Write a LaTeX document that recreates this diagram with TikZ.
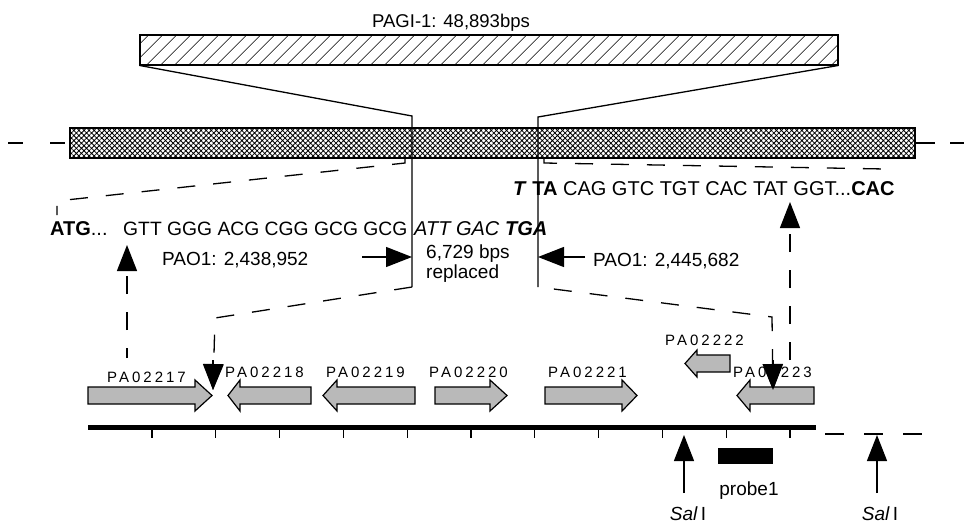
\documentclass[tikz,border=0pt]{standalone}
\usepackage{fontspec}
\setmainfont{Liberation Sans}
\newfontfamily\genefont[LetterSpace=20]{Liberation Sans}
\usetikzlibrary{patterns.meta,arrows.meta}
\tikzset{
  lbl/.style={inner sep=0pt, font=\fontsize{19}{21}\selectfont},
  seq/.style={inner sep=0pt, anchor=base west, font=\fontsize{20}{22}\selectfont},
  genelbl/.style={inner sep=0pt, anchor=base west, font=\genefont\fontsize{15}{17}\selectfont},
  gene/.style={draw=black, line width=1.2pt, fill=gray!55, line join=miter},
  solidln/.style={line width=1.3pt},
  dashln/.style={line width=1.3pt, dash pattern=on 18pt off 18pt},
  bigtip/.style={-{Triangle[length=26pt,width=20pt]}},
}
\begin{document}
\begin{tikzpicture}[x=1pt,y=-1pt]
\useasboundingbox (0,0) rectangle (964,525);
% PAGI-1 island
\node[lbl, anchor=base, font=\fontsize{18.5}{20}\selectfont] (pagi) at (451,27) {PAGI-1: 48,893bps};
\node[draw, line width=1.3pt, minimum width=698pt, minimum height=30pt, inner sep=0pt,
      pattern={Lines[angle=45,distance=10.5pt,line width=0.9pt]}] (pagibox) at (489,50) {};
% chromosome
\node[draw, line width=1.3pt, minimum width=845pt, minimum height=30pt, inner sep=0pt,
      pattern={Hatch[angle=45,distance=3.6pt,line width=0.8pt]}] (chrom) at (492.5,143) {};
\coordinate (fl1) at (8,143);
\coordinate (fr1) at (964,143);
\draw[dashln, dash pattern=on 15pt off 27pt] (fl1) -- (chrom.west);
\draw[dashln, dash pattern=on 20pt off 15pt] (chrom.east) -- (fr1);
% insertion lines
\coordinate (jl) at (412,116); \coordinate (jlb) at (412,287);
\coordinate (jr) at (538,117); \coordinate (jrb) at (538,287);
\draw[solidln] (pagibox.south west) -- (jl) -- (jlb);
\draw[solidln] (pagibox.south east) -- (jr) -- (jrb);
% upper dashed zooms
\coordinate (ul0) at (405,158); \coordinate (ul1) at (405,163);
\coordinate (ul2) at (57,201); \coordinate (ul3) at (57,215);
\draw[dashln] (ul0) -- (ul1) -- (ul2) -- (ul3);
\coordinate (ur0) at (544,158); \coordinate (ur1) at (544,163);
\coordinate (ur2) at (885,169); \coordinate (ur3) at (885,176);
\draw[dashln] (ur0) -- (ur1) -- (ur2) -- (ur3);
% sequences
\node[seq] (seqA) at (513,195) {\textbf{\textit{T}} \textbf{TA} CAG GTC TGT CAC TAT GGT...\textbf{CAC}};
\node[seq] (atg) at (50,235) {\textbf{ATG}...};
\node[seq, font=\fontsize{19.3}{21}\selectfont] (gtt) at (123,235) {GTT GGG ACG CGG GCG GCG};
\node[seq] (attg) at (414,235) {\textit{ATT GAC} \textbf{\textit{TGA}}};
\node[lbl, anchor=base west] (bps) at (426,258) {6,729 bps};
\node[lbl, anchor=base west] (repl) at (426,278) {replaced};
\node[lbl, anchor=base west] (paoL) at (162,265) {PAO1: 2,438,952};
\node[lbl, anchor=base west] (paoR) at (593,266) {PAO1: 2,445,682};
\coordinate (aLs) at (362,257); \coordinate (aLe) at (412,257);
\draw[solidln, bigtip] (aLs) -- (aLe);
\coordinate (aRs) at (585,257); \coordinate (aRe) at (538,257);
\draw[solidln, bigtip] (aRs) -- (aRe);
% up arrows
\coordinate (u1s) at (127,358); \coordinate (u1e) at (127,245);
\draw[dashln, dash phase=8pt, bigtip] (u1s) -- (u1e);
\coordinate (u2s) at (790,360); \coordinate (u2e) at (790,202);
\draw[dashln, bigtip] (u2s) -- (u2e);
% lower dashed zooms
\coordinate (ll1) at (215,318); \coordinate (ll2) at (213,390);
\draw[dashln, bigtip] (jlb) -- (ll1) -- (ll2);
\coordinate (lr1) at (772,317); \coordinate (lr2) at (773,390);
\draw[dashln, dash phase=20pt, bigtip] (jrb) -- (lr1) -- (lr2);
% genes
\node[genelbl] (g17) at (107,382) {PA02217};
\node[genelbl] (g18) at (225,377) {PA02218};
\node[genelbl] (g19) at (326,377) {PA02219};
\node[genelbl] (g20) at (429,377) {PA02220};
\node[genelbl] (g21) at (548,377) {PA02221};
\node[genelbl] (g22) at (665,345) {PA02222};
\node[genelbl] (g23) at (733,377) {PA02223};
\path[gene] (88,387) -- (195,387) -- (195,380) -- (212,395.5) -- (195,411) -- (195,404) -- (88,404) -- cycle;
\path[gene] (311,387) -- (240,387) -- (240,380) -- (228,395.5) -- (240,411) -- (240,404) -- (311,404) -- cycle;
\path[gene] (415,387) -- (337,387) -- (337,380) -- (323,395.5) -- (337,411) -- (337,404) -- (415,404) -- cycle;
\path[gene] (435,387) -- (490,387) -- (490,380) -- (507,395.5) -- (490,411) -- (490,404) -- (435,404) -- cycle;
\path[gene] (545,387) -- (622,387) -- (622,380) -- (637,395.5) -- (622,411) -- (622,404) -- (545,404) -- cycle;
\path[gene] (730,355) -- (697,355) -- (697,350) -- (685,363.5) -- (697,377) -- (697,372) -- (730,372) -- cycle;
\path[gene] (814,387) -- (750,387) -- (750,380) -- (737,395.5) -- (750,411) -- (750,404) -- (814,404) -- cycle;
% redraw down arrows on top of genes
\draw[solidln, bigtip] (213,360) -- (ll2);
\draw[solidln, bigtip] (773,360) -- (lr2);
% map axis
\coordinate (ax0) at (88,427); \coordinate (ax1) at (816,427);
\draw[line width=5pt] (ax0) -- (ax1);
\foreach \i in {0,...,10} \draw[line width=1.3pt] ({152+63.8*\i},427) -- ({152+63.8*\i},438);
\coordinate (bd0) at (825,434); \coordinate (bd1) at (922,434);
\draw[dashln, dash pattern=on 19pt off 20pt] (bd0) -- (bd1);
% SalI sites
\coordinate (s1s) at (684,493); \coordinate (s1e) at (684,435);
\draw[solidln, bigtip] (s1s) -- (s1e);
\node[lbl, anchor=base] (sal1) at (688,520) {\textit{Sal}\,I};
\coordinate (s2s) at (877,493); \coordinate (s2e) at (877,435);
\draw[solidln, bigtip] (s2s) -- (s2e);
\node[lbl, anchor=base] (sal2) at (880,520) {\textit{Sal}\,I};
% probe
\node[fill=black, minimum width=55pt, minimum height=16pt, inner sep=0pt] (probe) at (745.5,456) {};
\node[lbl, anchor=base] (probelbl) at (749,495) {probe1};
\end{tikzpicture}
\end{document}
